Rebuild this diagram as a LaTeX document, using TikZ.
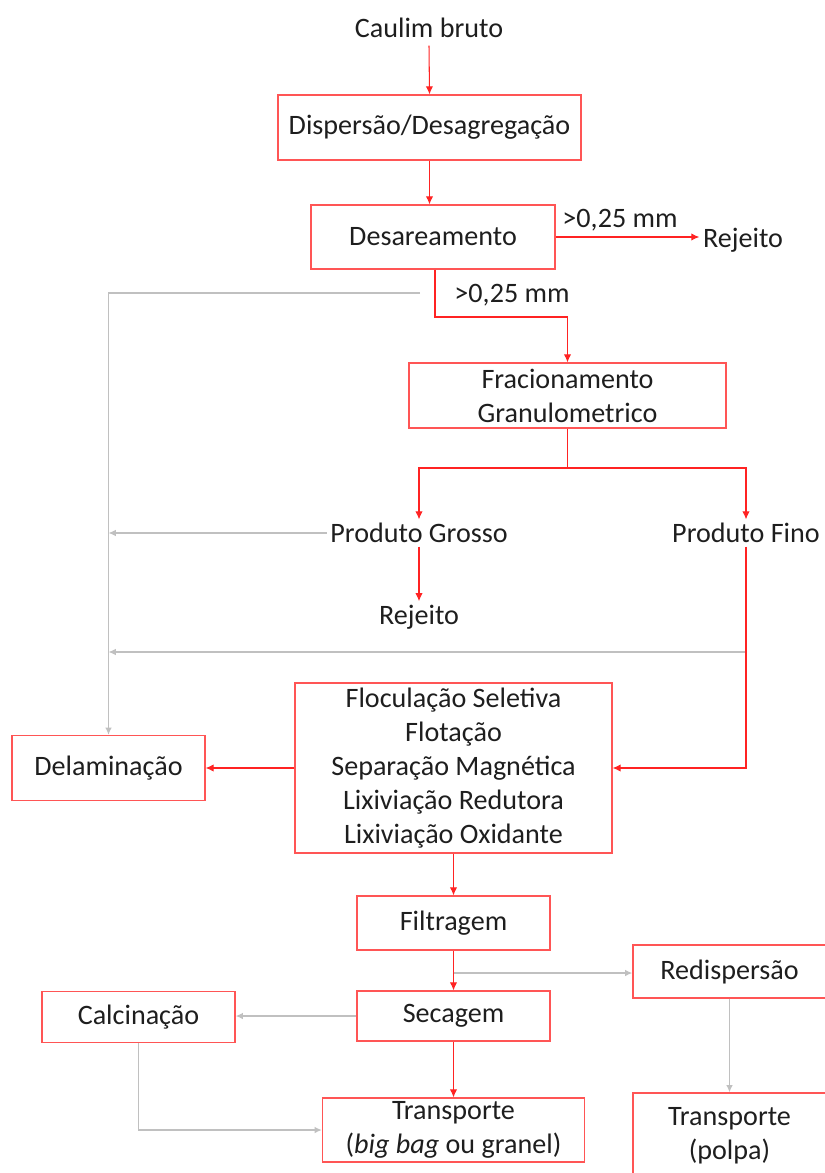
\documentclass[tikz,border=0pt]{standalone}
\usepackage{fontspec}
\setmainfont{Carlito}
\usetikzlibrary{positioning,arrows.meta}
\definecolor{boxred}{RGB}{255,85,85}
\definecolor{arrred}{RGB}{255,35,35}
\definecolor{flowgray}{RGB}{192,192,192}
\definecolor{txtgray}{RGB}{30,30,30}

\begin{document}
\begin{tikzpicture}[
  x=0.3mm, y=-0.3mm,
  font=\fontsize{24}{29}\selectfont, text=txtgray,
  box/.style={draw=boxred,line width=1.1pt,align=center,inner sep=2pt},
  stepbox/.style={box,minimum width=57.9mm},
  lbl/.style={align=center,inner sep=3pt},
  redarr/.style={draw=arrred,line width=0.9pt,-{Latex[length=2.4mm,width=2.2mm]}},
  redline/.style={draw=arrred,line width=0.9pt},
  grayarr/.style={draw=flowgray,line width=1.1pt,-{Latex[length=2.2mm,width=2mm]}}
]
\useasboundingbox (0,0) rectangle (824,1173);
% ---------------- upper part ----------------
\node[lbl] (raw) at (429,28) {Caulim bruto};
\node[box,minimum width=90.9mm,minimum height=19.5mm] (disp) at (429.5,127.5) {Dispersão/Desagregação};
\node[box,minimum width=73.2mm,minimum height=19.2mm] (desa) at (433,237) {Desareamento};
\node[lbl] (rej1) at (743,240) {Rejeito};
\node[lbl] (lab1) at (620,220) {>0,25 mm};
\node[lbl] (lab2) at (512,295) {>0,25 mm};
\node[box,minimum width=95.1mm,minimum height=19.5mm] (frac) at (567.5,395.5) {Fracionamento\\Granulometrico};
\coordinate (b1) at (435,317);
\coordinate (b2) at (567.5,468);
\coordinate (gs) at (420,293);
\draw[redarr] (raw.south) ++(0,4) -- (disp.north);
\draw[redarr] (disp.south) -- (disp.south |- desa.north);
\draw[redarr] (desa.east) -- (desa.east -| rej1.west);
\draw[redarr] (desa.south -| b1) -- (b1) -| (frac.north);

% ---------------- products ----------------
\node[lbl] (gros) at (419,533) {Produto Grosso};
\node[lbl] (fino) at (746,533) {Produto Fino};
\node[lbl] (rej2) at (419,617) {Rejeito};
\draw[redline] (frac.south) -- (b2);
\draw[redarr] (b2) -| (gros.north);
\draw[redarr] (b2) -| (fino.north);
\draw[redarr] (gros.south) -- (rej2.north);

% ---------------- beneficiation ----------------
\node[box,minimum width=95.1mm,minimum height=51mm] (flo) at (453.5,768)
     {Floculação Seletiva\\Flotação\\Separação Magnética\\Lixiviação Redutora\\Lixiviação Oxidante};
\node[stepbox,minimum height=19.5mm] (dela) at (108.5,768) {Delaminação};
\coordinate (b3) at (746,652);
\draw[grayarr] (gs) -| (dela.north);
\draw[grayarr] (gros.west) -- (gros.west -| dela.north);
\draw[grayarr] (b3) -- (b3 -| dela.north);
\draw[redarr] (fino.south) |- (flo.east);
\draw[redarr] (flo.west) -- (dela.east);

% ---------------- lower part ----------------
\node[stepbox,minimum height=16.2mm] (filt) at (453.5,923) {Filtragem};
\node[stepbox,minimum height=15mm] (seca) at (453.5,1016) {Secagem};
\node[stepbox,minimum height=15.3mm] (calc) at (138.5,1017) {Calcinação};
\node[stepbox,minimum height=15.9mm] (redi) at (729.5,971.5) {Redispersão};
\node[box,minimum width=78.6mm,minimum height=19.2mm] (tra1) at (453.5,1130)
     {Transporte\\(\textit{big bag} ou granel)};
\node[stepbox,minimum height=25.8mm] (tra2) at (729.5,1136) {Transporte\\(polpa)};
\coordinate (b4) at (453.5,973);
\draw[redarr] (flo.south) -- (filt.north);
\draw[redarr] (filt.south) -- (seca.north);
\draw[grayarr] (b4) -- (b4 -| redi.west);
\draw[grayarr] (seca.west) -- (seca.west -| calc.east);
\draw[redarr] (seca.south) -- (tra1.north);
\draw[grayarr] (calc.south) |- (tra1.west);
\draw[grayarr] (redi.south) -- (tra2.north);
\end{tikzpicture}
\end{document}
